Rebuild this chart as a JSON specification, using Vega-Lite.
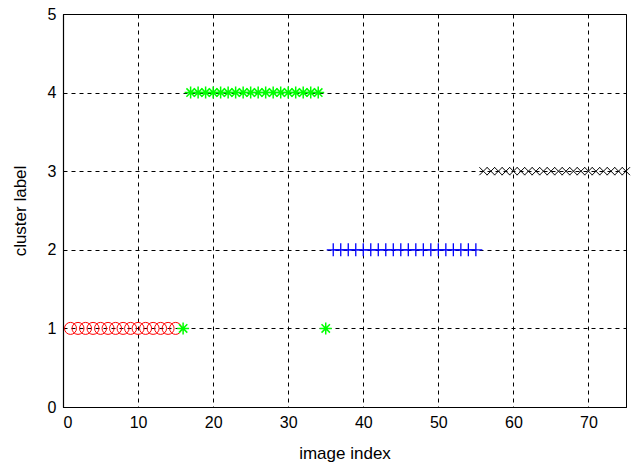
{
  "$schema": "https://vega.github.io/schema/vega-lite/v6.json",
  "autosize": "none",
  "width": 563,
  "height": 393,
  "padding": {"left": 63, "top": 14, "right": 6, "bottom": 63},
  "background": "white",
  "config": {
    "view": {"stroke": "black", "strokeWidth": 1},
    "axis": {
      "labelFont": "Liberation Sans",
      "titleFont": "Liberation Sans",
      "labelFontSize": 16,
      "titleFontSize": 17,
      "titleFontWeight": "normal",
      "labelColor": "black",
      "titleColor": "black",
      "domainColor": "black",
      "domainWidth": 1.2,
      "grid": true,
      "gridColor": "black",
      "gridOpacity": 1,
      "gridDash": [4, 4],
      "gridWidth": 1,
      "ticks": false,
      "labelPadding": 7
    }
  },
  "data": {
    "values": [
      {"idx": 1, "label": 1, "cluster": "c1"},
      {"idx": 2, "label": 1, "cluster": "c1"},
      {"idx": 3, "label": 1, "cluster": "c1"},
      {"idx": 4, "label": 1, "cluster": "c1"},
      {"idx": 5, "label": 1, "cluster": "c1"},
      {"idx": 6, "label": 1, "cluster": "c1"},
      {"idx": 7, "label": 1, "cluster": "c1"},
      {"idx": 8, "label": 1, "cluster": "c1"},
      {"idx": 9, "label": 1, "cluster": "c1"},
      {"idx": 10, "label": 1, "cluster": "c1"},
      {"idx": 11, "label": 1, "cluster": "c1"},
      {"idx": 12, "label": 1, "cluster": "c1"},
      {"idx": 13, "label": 1, "cluster": "c1"},
      {"idx": 14, "label": 1, "cluster": "c1"},
      {"idx": 15, "label": 1, "cluster": "c1"},
      {"idx": 16, "label": 1, "cluster": "c2"},
      {"idx": 17, "label": 4, "cluster": "c2"},
      {"idx": 18, "label": 4, "cluster": "c2"},
      {"idx": 19, "label": 4, "cluster": "c2"},
      {"idx": 20, "label": 4, "cluster": "c2"},
      {"idx": 21, "label": 4, "cluster": "c2"},
      {"idx": 22, "label": 4, "cluster": "c2"},
      {"idx": 23, "label": 4, "cluster": "c2"},
      {"idx": 24, "label": 4, "cluster": "c2"},
      {"idx": 25, "label": 4, "cluster": "c2"},
      {"idx": 26, "label": 4, "cluster": "c2"},
      {"idx": 27, "label": 4, "cluster": "c2"},
      {"idx": 28, "label": 4, "cluster": "c2"},
      {"idx": 29, "label": 4, "cluster": "c2"},
      {"idx": 30, "label": 4, "cluster": "c2"},
      {"idx": 31, "label": 4, "cluster": "c2"},
      {"idx": 32, "label": 4, "cluster": "c2"},
      {"idx": 33, "label": 4, "cluster": "c2"},
      {"idx": 34, "label": 4, "cluster": "c2"},
      {"idx": 35, "label": 1, "cluster": "c2"},
      {"idx": 36, "label": 2, "cluster": "c3"},
      {"idx": 37, "label": 2, "cluster": "c3"},
      {"idx": 38, "label": 2, "cluster": "c3"},
      {"idx": 39, "label": 2, "cluster": "c3"},
      {"idx": 40, "label": 2, "cluster": "c3"},
      {"idx": 41, "label": 2, "cluster": "c3"},
      {"idx": 42, "label": 2, "cluster": "c3"},
      {"idx": 43, "label": 2, "cluster": "c3"},
      {"idx": 44, "label": 2, "cluster": "c3"},
      {"idx": 45, "label": 2, "cluster": "c3"},
      {"idx": 46, "label": 2, "cluster": "c3"},
      {"idx": 47, "label": 2, "cluster": "c3"},
      {"idx": 48, "label": 2, "cluster": "c3"},
      {"idx": 49, "label": 2, "cluster": "c3"},
      {"idx": 50, "label": 2, "cluster": "c3"},
      {"idx": 51, "label": 2, "cluster": "c3"},
      {"idx": 52, "label": 2, "cluster": "c3"},
      {"idx": 53, "label": 2, "cluster": "c3"},
      {"idx": 54, "label": 2, "cluster": "c3"},
      {"idx": 55, "label": 2, "cluster": "c3"},
      {"idx": 56, "label": 3, "cluster": "c4"},
      {"idx": 57, "label": 3, "cluster": "c4"},
      {"idx": 58, "label": 3, "cluster": "c4"},
      {"idx": 59, "label": 3, "cluster": "c4"},
      {"idx": 60, "label": 3, "cluster": "c4"},
      {"idx": 61, "label": 3, "cluster": "c4"},
      {"idx": 62, "label": 3, "cluster": "c4"},
      {"idx": 63, "label": 3, "cluster": "c4"},
      {"idx": 64, "label": 3, "cluster": "c4"},
      {"idx": 65, "label": 3, "cluster": "c4"},
      {"idx": 66, "label": 3, "cluster": "c4"},
      {"idx": 67, "label": 3, "cluster": "c4"},
      {"idx": 68, "label": 3, "cluster": "c4"},
      {"idx": 69, "label": 3, "cluster": "c4"},
      {"idx": 70, "label": 3, "cluster": "c4"},
      {"idx": 71, "label": 3, "cluster": "c4"},
      {"idx": 72, "label": 3, "cluster": "c4"},
      {"idx": 73, "label": 3, "cluster": "c4"},
      {"idx": 74, "label": 3, "cluster": "c4"},
      {"idx": 75, "label": 3, "cluster": "c4"}
    ]
  },
  "encoding": {
    "x": {
      "field": "idx", "type": "quantitative",
      "scale": {"domain": [0, 75], "nice": false, "zero": false},
      "axis": {"values": [0, 10, 20, 30, 40, 50, 60, 70], "title": "image index", "titlePadding": 15}
    },
    "y": {
      "field": "label", "type": "quantitative",
      "scale": {"domain": [0, 5], "nice": false},
      "axis": {"values": [0, 1, 2, 3, 4, 5], "title": "cluster label", "titlePadding": 18}
    }
  },
  "layer": [
    {
      "transform": [{"filter": "datum.cluster === 'c1'"}],
      "mark": {"type": "point", "shape": "circle", "filled": false, "color": "#ff0000", "size": 144, "strokeWidth": 1, "opacity": 1, "clip": false}
    },
    {
      "transform": [{"filter": "datum.cluster === 'c3'"}],
      "mark": {"type": "point", "shape": "M-1,0L1,0M0,-1L0,1", "filled": false, "color": "#0000ff", "size": 169, "strokeWidth": 1.3, "opacity": 1, "clip": false}
    },
    {
      "transform": [{"filter": "datum.cluster === 'c4'"}],
      "mark": {"type": "point", "shape": "M-1,-1L1,1M-1,1L1,-1", "filled": false, "color": "#000000", "size": 64, "strokeWidth": 1, "opacity": 1, "clip": false}
    },
    {
      "transform": [{"filter": "datum.cluster === 'c2'"}],
      "mark": {"type": "point", "shape": "M-1,0L1,0M0,-1L0,1M-0.7,-0.7L0.7,0.7M-0.7,0.7L0.7,-0.7", "filled": false, "color": "#00ff00", "size": 144, "strokeWidth": 1.5, "opacity": 1, "clip": false}
    }
  ]
}
